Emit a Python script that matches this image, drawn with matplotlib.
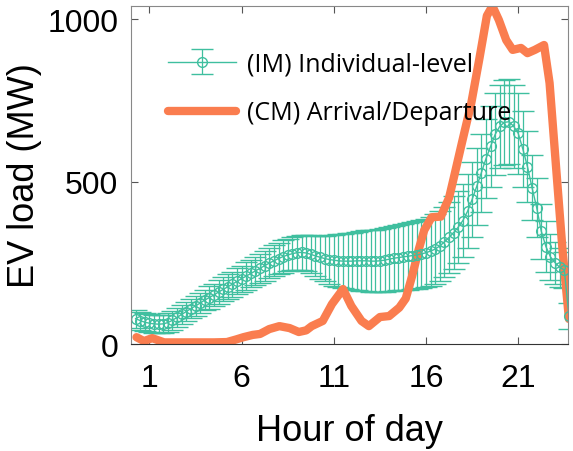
import numpy as np
import matplotlib
matplotlib.use("Agg")
import matplotlib.pyplot as plt

# (IM) individual-level model: mean EV load every 15 min, with spread
im_hours = np.arange(1, 96) * 0.25
im_load = [78, 72, 67, 64, 62, 61, 62, 66,
           73, 82, 91, 100, 109, 117, 126, 135,
           143, 151, 160, 168, 176, 184, 193, 201,
           209, 217, 225, 233, 241, 249, 256, 263,
           269, 274, 278, 281, 282, 280, 276, 271,
           267, 263, 260, 258, 256, 255, 255, 255,
           256, 256, 256, 255, 255, 256, 258, 261,
           264, 266, 268, 270, 272, 274, 277, 281,
           286, 292, 302, 314, 328, 343, 360, 380,
           408, 445, 485, 527, 570, 608, 645, 670,
           682, 684, 670, 648, 600, 546, 481, 420,
           347, 300, 268, 250, 236, 228, 85]
im_err = [28, 28, 28, 28, 28, 28, 28, 28,
          30, 30, 30, 30, 30, 30, 30, 30,
          35, 35, 36, 37, 38, 39, 40, 40,
          42, 43, 44, 45, 46, 47, 48, 49,
          50, 50, 51, 52, 53, 55, 58, 62,
          66, 70, 74, 78, 81, 84, 86, 88,
          90, 92, 94, 95, 96, 97, 98, 99,
          100, 101, 102, 103, 104, 105, 105, 105,
          106, 107, 108, 109, 110, 111, 112, 113,
          114, 116, 118, 120, 122, 124, 126, 128,
          130, 130, 128, 124, 118, 110, 100, 92,
          85, 78, 70, 64, 60, 56, 40]

# (CM) arrival/departure model
cm_hours = [0.3, 0.7, 1.15, 1.8, 2.5, 3.5, 4.5, 5.2, 5.7, 6.1, 6.6, 7.0,
            7.5, 8.05, 8.6, 9.1, 9.5, 9.8, 10.4, 10.9, 11.5, 11.95, 12.5,
            12.9, 13.5, 14.0, 14.55, 14.9, 15.25, 15.6, 15.9, 16.3, 16.8,
            17.25, 17.5, 17.95, 18.45, 18.9, 19.3, 19.6, 19.95, 20.35, 20.7,
            21.15, 21.5, 21.9, 22.4, 22.7, 23.05, 23.4, 23.75]
cm_load = [21, 9, 18, 5, 5, 5, 5, 6, 14, 21, 28, 31,
           46, 55, 49, 37, 42, 55, 71, 123, 169, 117, 71,
           55, 83, 86, 112, 140, 210, 290, 350, 390, 392,
           450, 510, 620, 740, 880, 1010, 1040, 997, 935, 905,
           911, 895, 905, 920, 803, 546, 291, 77]

hour_ticks = [1, 6, 11, 16, 21]
load_ticks = [0, 500, 1000]

teal = "#3fbf9f"
coral = "#fa7d4f"

fig = plt.figure(figsize=(5.73, 4.52), dpi=100)
ax = fig.add_axes([0.2286, 0.2367, 0.7627, 0.7478])

im = ax.errorbar(im_hours, im_load, yerr=im_err, color=teal, ecolor=teal,
                 elinewidth=0.9, lw=1, capsize=8, capthick=0.9, marker="o",
                 markersize=7, mfc="none", mec=teal, mew=1,
                 label="(IM) Individual-level")
cm, = ax.plot(cm_hours, cm_load, color=coral, lw=6, solid_capstyle="round",
              label="(CM) Arrival/Departure")

ax.set_xlim(0, 23.7)
ax.set_ylim(0, 1040)
ax.set_xticks(hour_ticks)
ax.set_yticks(load_ticks)

tick_font = {"family": "Liberation Sans", "size": 23}
ax.set_xticklabels([str(h) for h in hour_ticks], fontdict=tick_font)
ax.set_yticklabels([str(v) for v in load_ticks], fontdict=tick_font)
ax.tick_params(axis="both", direction="in", length=5, width=0.8,
               color="#555555", top=True, right=True)
ax.tick_params(axis="x", pad=14)
ax.tick_params(axis="y", pad=9)

for side in ["left", "top", "right"]:
    ax.spines[side].set_color("#888888")
ax.spines["bottom"].set_color("#333333")

ax.set_xlabel("Hour of day", family="Liberation Sans", size=26, labelpad=14)
ax.set_ylabel("EV load (MW)", family="Liberation Sans", size=26, labelpad=4)

ax.legend(handles=[im, cm], loc="center left", bbox_to_anchor=(0.085, 0.756),
          frameon=False, borderpad=0, borderaxespad=0, handlelength=2.7,
          handletextpad=0.45, labelspacing=0.95,
          prop={"family": "Open Sans", "size": 18})

fig.savefig("out.png", dpi=100)
